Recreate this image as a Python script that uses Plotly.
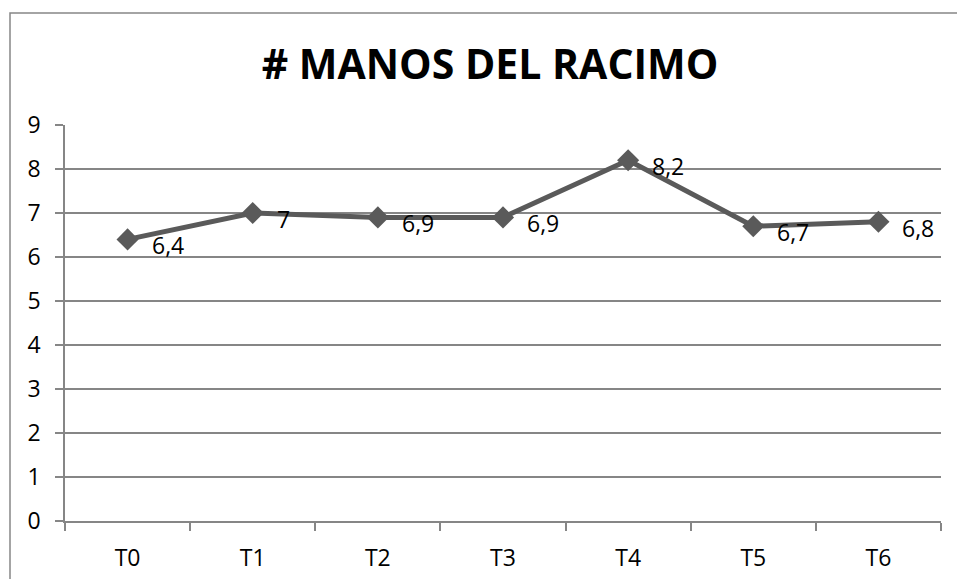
import plotly.graph_objects as go

categories = ["T0", "T1", "T2", "T3", "T4", "T5", "T6"]
values = [6.4, 7, 6.9, 6.9, 8.2, 6.7, 6.8]
title_text = "# MANOS DEL RACIMO"
y_ticks = list(range(0, 10))

W, H = 957, 579
ml, mr, mt, mb = 65, 16, 125, 58
pw, ph = W - ml - mr, H - mt - mb

FONT = "Open Sans"
GRID = "#868686"
LINE = "#5a5a5a"

def fmt(v):
    s = ("%g" % v)
    return s.replace(".", ",")

fig = go.Figure()
fig.add_trace(go.Scatter(
    x=categories, y=values, mode="lines+markers",
    line=dict(color=LINE, width=5),
    marker=dict(symbol="diamond", size=17, color=LINE),
    hoverinfo="skip", showlegend=False,
))

for c, v in zip(categories, values):
    fig.add_annotation(x=c, y=v, text=fmt(v), showarrow=False,
                       xanchor="left", yanchor="middle", xshift=22, yshift=-6,
                       font=dict(family=FONT, size=23, color="black"))

# outer chart border (left and top visible)
fig.add_shape(type="rect", xref="paper", yref="paper",
              x0=(10 - ml) / pw, x1=(W + 20 - ml) / pw,
              y0=-(mb + 20) / ph, y1=1 + (mt - 13) / ph,
              line=dict(color=GRID, width=1.5), fillcolor="rgba(0,0,0,0)", layer="below")

fig.update_layout(
    width=W, height=H,
    margin=dict(l=ml, r=mr, t=mt, b=mb),
    paper_bgcolor="white", plot_bgcolor="white",
    title=dict(text="<b>" + title_text + "</b>", x=(490 - ml) / pw, xref="paper",
               xanchor="center", y=1 - 65 / H, yref="container", yanchor="middle",
               font=dict(family=FONT, size=41, color="black")),
    font=dict(family=FONT, size=23, color="black"),
    xaxis=dict(type="category", tickson="boundaries", ticks="outside", ticklen=8,
               tickcolor=GRID, tickwidth=1.5, showline=True, linecolor=GRID, linewidth=1.5,
               showgrid=False, ticklabelstandoff=16, tickfont=dict(size=23),
               range=[-0.5, 6.5], fixedrange=True, automargin=False),
    yaxis=dict(range=[0, 9], tickvals=y_ticks, ticks="outside", ticklen=8,
               tickcolor=GRID, tickwidth=1.5, showline=True, linecolor=GRID, linewidth=1.5,
               showgrid=True, gridcolor=GRID, gridwidth=1.5, zeroline=False,
               ticklabelstandoff=10, tickfont=dict(size=23), fixedrange=True,
               automargin=False),
)

fig.write_html("out.html", config={"displayModeBar": False},
               post_script="document.body.style.margin='0';")
